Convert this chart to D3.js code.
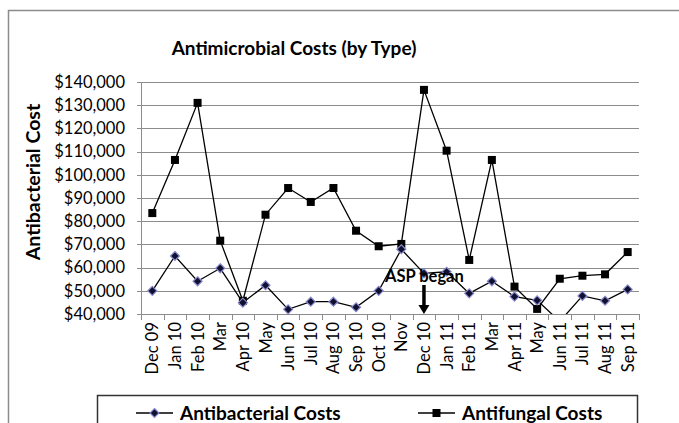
<!DOCTYPE html>
<html>
<head>
<meta charset="utf-8">
<script src="https://cdn.jsdelivr.net/npm/d3@7"></script>
<style>
  body { margin: 0; background: #fff; }
  svg { display: block; font-family: Lato, "Open Sans", sans-serif; }
</style>
</head>
<body>
<svg id="chart"></svg>
<script>
const months = ["Dec 09", "Jan 10", "Feb 10", "Mar", "Apr 10", "May", "Jun 10", "Jul 10",
  "Aug 10", "Sep 10", "Oct 10", "Nov", "Dec 10", "Jan 11", "Feb 11", "Mar", "Apr 11",
  "May", "Jun 11", "Jul 11", "Aug 11", "Sep 11"];

const antibacterial = [50000, 65000, 54100, 59700, 44900, 52400, 42000, 45300, 45300, 42900,
  50000, 67900, 57500, 58200, 48900, 54100, 47500, 45900, 36800, 47800, 45700, 50600];

const antifungal = [83500, 106400, 131000, 71600, 45700, 82800, 94300, 88300, 94300, 75900,
  69200, 70200, 136600, 110400, 63300, 106400, 51800, 42200, 55200, 56500, 57100, 66700];

const yTicks = [40000, 50000, 60000, 70000, 80000, 90000, 100000, 110000, 120000, 130000, 140000];

const seriesNames = ["Antibacterial Costs", "Antifungal Costs"];
const aspMonth = 12; // index of Dec 10

const W = 679, H = 423;
const plot = { left: 141, right: 639, top: 82, bottom: 314 };

const svg = d3.select("#chart").attr("width", W).attr("height", H);

// outer chart border (cut off at right/bottom like the picture)
svg.append("path")
  .attr("d", `M8.5,${H}V10.5H${W}`)
  .attr("fill", "none").attr("stroke", "#8c8c8c").attr("stroke-width", 1.5);

svg.append("text")
  .attr("x", 294).attr("y", 55)
  .attr("text-anchor", "middle")
  .attr("font-weight", "bold").attr("font-size", 19)
  .text("Antimicrobial Costs (by Type)");

// scales
const x = d3.scaleBand().domain(d3.range(months.length)).range([plot.left, plot.right]).padding(0);
const xc = (i) => x(i) + x.bandwidth() / 2;
const y = d3.scaleLinear().domain([40000, 140000]).range([plot.bottom, plot.top]);

// grid
svg.append("g")
  .selectAll("line")
  .data(yTicks)
  .join("line")
  .attr("x1", plot.left - 4).attr("x2", plot.right)
  .attr("y1", (d) => Math.round(y(d)) + 0.5).attr("y2", (d) => Math.round(y(d)) + 0.5)
  .attr("stroke", "#8c8c8c").attr("stroke-width", 1);

// y axis
const yAxis = d3.axisLeft(y).tickValues(yTicks).tickFormat(d3.format("$,.0f")).tickSize(0).tickPadding(16);
const gy = svg.append("g").attr("transform", `translate(${plot.left},0)`).call(yAxis);
gy.select(".domain").attr("stroke", "#8c8c8c");
gy.selectAll("text").attr("font-size", 16.5).attr("font-family", "Lato, sans-serif").attr("fill", "#000");

svg.append("text")
  .attr("transform", `translate(40,182) rotate(-90)`)
  .attr("text-anchor", "middle")
  .attr("font-weight", "bold").attr("font-size", 19.5)
  .text("Antibacterial Cost");

// x axis
svg.append("line")
  .attr("x1", plot.left).attr("x2", plot.right + 1)
  .attr("y1", plot.bottom + 0.5).attr("y2", plot.bottom + 0.5)
  .attr("stroke", "#8c8c8c");
svg.append("g")
  .selectAll("line")
  .data(d3.range(months.length + 1))
  .join("line")
  .attr("x1", (i) => Math.round(i < months.length ? x(i) : plot.right) + 0.5)
  .attr("x2", (i) => Math.round(i < months.length ? x(i) : plot.right) + 0.5)
  .attr("y1", plot.bottom).attr("y2", plot.bottom + 6)
  .attr("stroke", "#8c8c8c");
svg.append("g")
  .selectAll("text")
  .data(months)
  .join("text")
  .attr("transform", (d, i) => `translate(${xc(i) + 6},${plot.bottom + 8}) rotate(-90)`)
  .attr("text-anchor", "end")
  .attr("font-size", 16.5)
  .text((d) => d);

// series
svg.append("clipPath").attr("id", "clip")
  .append("rect")
  .attr("x", plot.left - 10).attr("y", 0)
  .attr("width", plot.right - plot.left + 20).attr("height", plot.bottom);

const line = d3.line().x((d, i) => xc(i)).y((d) => y(d));
const series = svg.append("g").attr("clip-path", "url(#clip)");

series.append("path").datum(antifungal)
  .attr("d", line).attr("fill", "none").attr("stroke", "#000").attr("stroke-width", 1.3);
series.append("path").datum(antibacterial)
  .attr("d", line).attr("fill", "none").attr("stroke", "#000").attr("stroke-width", 1.3);

const diamond = (cx, cy, r) => `M${cx},${cy - r}L${cx + r},${cy}L${cx},${cy + r}L${cx - r},${cy}Z`;

series.append("g").selectAll("rect")
  .data(antifungal)
  .join("rect")
  .attr("x", (d, i) => xc(i) - 4).attr("y", (d) => y(d) - 4)
  .attr("width", 8).attr("height", 8)
  .attr("fill", "#000");

series.append("g").selectAll("path")
  .data(antibacterial)
  .join("path")
  .attr("d", (d, i) => diamond(xc(i), y(d), 4.5))
  .attr("fill", "#101030").attr("stroke", "#8888cc").attr("stroke-width", 1.2);

// ASP began annotation
svg.append("text")
  .attr("x", xc(aspMonth) - 39).attr("y", 282)
  .attr("font-weight", "bold").attr("font-size", 16.5)
  .text("ASP began");
svg.append("line")
  .attr("x1", xc(aspMonth)).attr("x2", xc(aspMonth))
  .attr("y1", 285).attr("y2", 307)
  .attr("stroke", "#000").attr("stroke-width", 3.5);
svg.append("path")
  .attr("d", `M${xc(aspMonth) - 5.5},305L${xc(aspMonth) + 5.5},305L${xc(aspMonth)},314Z`)
  .attr("fill", "#000");

// legend
svg.append("path")
  .attr("d", `M97.5,${H}V395.5H637.5V${H}`)
  .attr("fill", "none").attr("stroke", "#333").attr("stroke-width", 1.5);

const legend = svg.append("g");
const lx = [136, 418];
seriesNames.forEach((name, k) => {
  const g = legend.append("g").attr("transform", `translate(${lx[k]},413)`);
  g.append("line").attr("x1", 0).attr("x2", 37).attr("stroke", "#000").attr("stroke-width", 1.3);
  if (k === 0) {
    g.append("path").attr("d", diamond(18.5, 0, 4.5))
      .attr("fill", "#101030").attr("stroke", "#8888cc").attr("stroke-width", 1.2);
  } else {
    g.append("rect").attr("x", 14.5).attr("y", -4).attr("width", 8).attr("height", 8).attr("fill", "#000");
  }
  g.append("text").attr("x", 44).attr("y", 7)
    .attr("font-weight", "bold").attr("font-size", 19)
    .text(name);
});
</script>
</body>
</html>
